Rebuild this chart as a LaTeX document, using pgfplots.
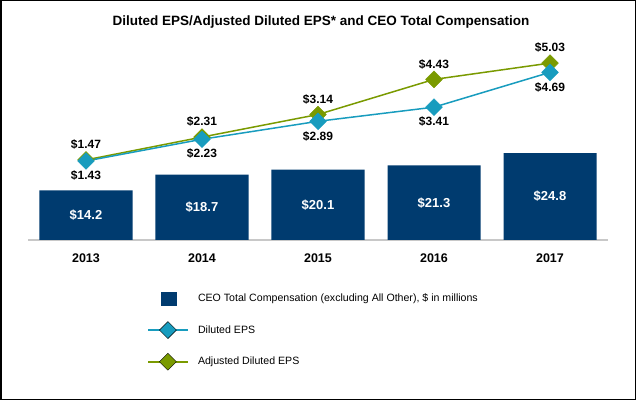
\documentclass[border=0pt]{standalone}
\usepackage{pgfplots}
\pgfplotsset{compat=1.18}
\usepackage{fontspec}
\setmainfont{Liberation Sans}
\definecolor{navyc}{RGB}{0,59,111}
\definecolor{tealc}{RGB}{24,156,190}
\definecolor{olivec}{RGB}{122,154,0}
\definecolor{basec}{RGB}{200,200,200}
\begin{document}
\begin{tikzpicture}
\useasboundingbox (0,0) rectangle (636bp,400bp);
\draw[line width=1.5bp] (0.75bp,0.75bp) rectangle (635.25bp,399.25bp);
\begin{axis}[
  at={(28bp,160bp)}, anchor=south west,
  scale only axis, width=580bp, height=200bp,
  xmin=-0.5, xmax=4.5, ymin=0, ymax=57.142857,
  axis x line*=bottom, hide y axis,
  x axis line style={basec, line width=1.2bp},
  xtick={0,1,2,3,4}, xticklabels={2013,2014,2015,2016,2017},
  major tick length=0pt,
  xticklabel style={font=\fontsize{12.5bp}{15bp}\selectfont\bfseries, anchor=center, yshift=-18bp},
  title={Diluted EPS/Adjusted Diluted EPS* and CEO Total Compensation},
  title style={font=\fontsize{13.5bp}{16bp}\selectfont\bfseries, at={(0.5,1)}, anchor=center, yshift=12bp, xshift=3bp},
  /pgf/number format/assume math mode=true,
  ybar, bar width=93bp,
]
\addplot[fill=navyc, draw=none, bar shift=0pt,
  visualization depends on=rawy\as\rawy,
  nodes near coords={\$\pgfmathprintnumber[fixed,fixed zerofill,precision=1]{\rawy}},
  nodes near coords style={anchor=center, yshift={-\rawy*1.75bp}, text=white, font=\fontsize{13bp}{15bp}\selectfont\bfseries}]
  coordinates {(0,14.2) (1,18.7) (2,20.1) (3,21.3) (4,24.8)};
\end{axis}
\begin{axis}[
  at={(28bp,160bp)}, anchor=south west,
  scale only axis, width=580bp, height=200bp,
  xmin=-0.5, xmax=4.5, ymin=-1.474, ymax=5.879,
  hide axis, clip=false,
  /pgf/number format/assume math mode=true,
  legend style={at={(0.2057,-0.2475)}, anchor=north west, draw=none, fill=none,
    inner sep=0pt, outer sep=0pt, font=\fontsize{10.6bp}{12bp}\selectfont,
    row sep=13.6bp, /tikz/every odd column/.append style={column sep=9.5bp},
    nodes={inner sep=0pt}},
  legend cell align=left,
]
\addlegendimage{legend image code/.code={\path[draw=none,fill=none] (0bp,-9bp) rectangle (39.4bp,9bp); \fill[navyc] (12.7bp,-6.5bp) rectangle (27.7bp,6.5bp);}}
\addlegendentry{CEO Total Compensation (excluding All Other), \$ in millions}
\addlegendimage{legend image code/.code={\path[draw=none,fill=none] (0bp,-9bp) rectangle (39.4bp,9bp); \draw[draw=tealc, line width=1.8bp] (0bp,0bp) -- (39.4bp,0bp); \fill[fill=tealc] (19.7bp,8.5bp) -- (28.2bp,0bp) -- (19.7bp,-8.5bp) -- (11.2bp,0bp) -- cycle;}}
\addlegendentry{Diluted EPS}
\addlegendimage{legend image code/.code={\path[draw=none,fill=none] (0bp,-9bp) rectangle (39.4bp,9bp); \draw[draw=olivec, line width=1.8bp] (0bp,0bp) -- (39.4bp,0bp); \fill[fill=olivec] (19.7bp,8.5bp) -- (28.2bp,0bp) -- (19.7bp,-8.5bp) -- (11.2bp,0bp) -- cycle;}}
\addlegendentry{Adjusted Diluted EPS}
\addplot[olivec, line width=1.5bp, mark=square*, mark size=5.9bp, mark options={rotate=45, line width=0.5bp}, forget plot,
  point meta=y,
  nodes near coords={\$\pgfmathprintnumber[fixed,fixed zerofill,precision=2]{\pgfplotspointmeta}},
  nodes near coords style={anchor=center, yshift=15.3bp, text=black, font=\fontsize{12bp}{14bp}\selectfont\bfseries}]
  coordinates {(0,1.47) (1,2.31) (2,3.14) (3,4.43) (4,5.03)};
\addplot[tealc, line width=1.5bp, mark=square*, mark size=5.9bp, mark options={rotate=45, line width=0.5bp}, forget plot,
  point meta=y,
  nodes near coords={\$\pgfmathprintnumber[fixed,fixed zerofill,precision=2]{\pgfplotspointmeta}},
  nodes near coords style={anchor=center, yshift=-14.7bp, text=black, font=\fontsize{12bp}{14bp}\selectfont\bfseries}]
  coordinates {(0,1.43) (1,2.23) (2,2.89) (3,3.41) (4,4.69)};
\end{axis}
\end{tikzpicture}
\end{document}
